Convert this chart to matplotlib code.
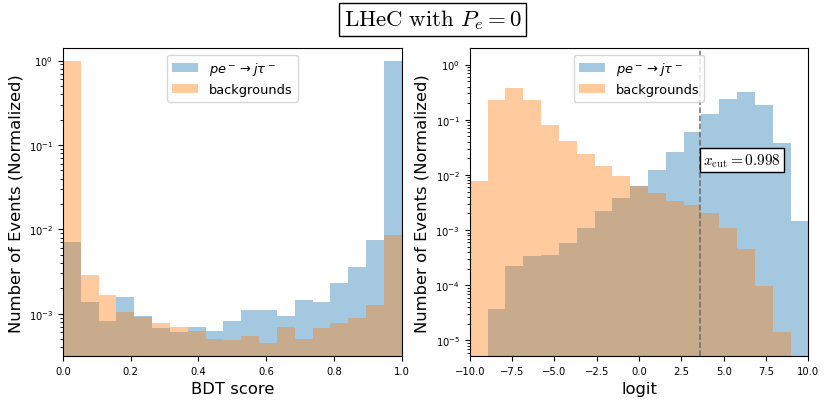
import numpy as np
import matplotlib
matplotlib.use("Agg")
import matplotlib.pyplot as plt

# binned, normalized histograms
bdt_edges = np.linspace(0, 1, 20)
sig_bdt = [7.0e-3, 1.38e-3, 8.2e-4, 1.58e-3, 9.3e-4, 6.7e-4, 6.0e-4, 7.0e-4, 6.3e-4, 8.2e-4,
           1.1e-3, 1.1e-3, 9.3e-4, 1.44e-3, 1.37e-3, 2.3e-3, 3.6e-3, 7.5e-3, 1.0]
bkg_bdt = [1.0, 2.9e-3, 1.68e-3, 1.06e-3, 9.1e-4, 7.8e-4, 7.0e-4, 6.3e-4, 5.0e-4, 4.9e-4,
           5.5e-4, 4.5e-4, 7.0e-4, 5.0e-4, 6.8e-4, 7.8e-4, 8.9e-4, 1.27e-3, 8.6e-3]

logit_edges = np.linspace(-10, 10, 20)
sig_logit = [0, 3.66e-5, 2.24e-4, 3.35e-4, 3.6e-4, 5.94e-4, 1.07e-3, 2.2e-3, 3.84e-3, 6.35e-3,
             0.0124, 0.0256, 0.0607, 0.125, 0.238, 0.315, 0.185, 0.0378, 1.45e-3]
bkg_logit = [7.8e-3, 0.225, 0.372, 0.225, 0.0814, 0.0416, 0.0239, 0.0147, 9.4e-3, 6.3e-3,
             4.74e-3, 3.34e-3, 2.88e-3, 2.05e-3, 1.07e-3, 4.6e-4, 9.6e-5, 1.44e-5, 0]

x_cut_logit = 3.6
sig_label = r"$pe^-\to j\tau^-$"
bkg_label = "backgrounds"

fig = plt.figure(figsize=(8.3, 4.1), dpi=100)
ax1 = fig.add_axes([0.0759, 0.129, 0.408, 0.751])
ax2 = fig.add_axes([0.566, 0.129, 0.408, 0.751])

def draw(ax, edges, sig, bkg):
    centers = 0.5 * (edges[1:] + edges[:-1])
    ax.hist(centers, bins=edges, weights=sig, alpha=0.4, color="tab:blue", label=sig_label)
    ax.hist(centers, bins=edges, weights=bkg, alpha=0.4, color="tab:orange", label=bkg_label)
    ax.set_yscale("log")
    ax.set_xlim(edges[0], edges[-1])
    ax.set_ylabel("Number of Events (Normalized)", fontsize=11.8)
    ax.tick_params(labelsize=7.2)
    ax.legend(loc="upper center", fontsize=9.4)

draw(ax1, bdt_edges, sig_bdt, bkg_bdt)
ax1.set_ylim(3.15e-4, 1.4)
ax1.set_xlabel("BDT score", fontsize=11.8)

draw(ax2, logit_edges, sig_logit, bkg_logit)
ax2.set_ylim(5.2e-6, 1.98)
ax2.set_xlabel("logit", fontsize=11.8)
ax2.axvline(x_cut_logit, color="dimgray", linestyle="--", linewidth=1.1)
ax2.text(x_cut_logit + 0.15, 0.0188, r"$x_{\rm cut} = 0.998$", math_fontfamily="cm",
         fontsize=11, ha="left", va="center",
         bbox=dict(boxstyle="square,pad=0.2", facecolor="white", edgecolor="black"))

fig.text(0.5215, 0.95, r"$\mathrm{LHeC\ with}\ P_e = 0$", math_fontfamily="cm",
         fontsize=16.5, ha="center", va="center",
         bbox=dict(boxstyle="square,pad=0.2", facecolor="white", edgecolor="black"))

fig.savefig("out.png")
